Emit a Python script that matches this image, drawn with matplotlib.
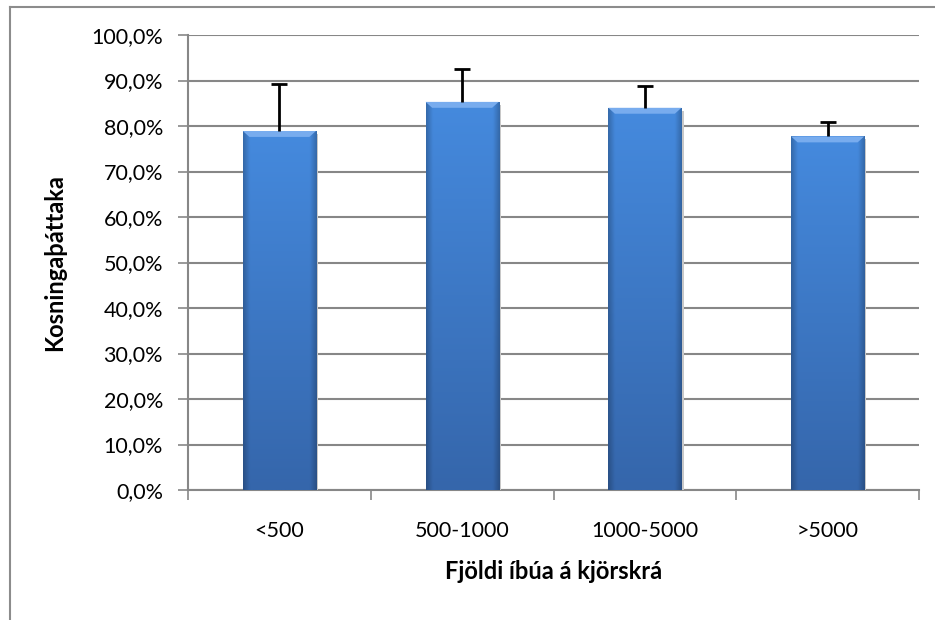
import numpy as np
import matplotlib
matplotlib.use('Agg')
import matplotlib.pyplot as plt
from matplotlib.colors import to_rgb
from matplotlib.lines import Line2D
from matplotlib.ticker import FuncFormatter, MultipleLocator

# data
categories = ['<500', '500-1000', '1000-5000', '>5000']
turnout = [78.9, 85.3, 84.0, 77.7]
err_up = [10.3, 7.3, 4.7, 3.1]

plt.rcParams['font.family'] = ['Lato', 'DejaVu Sans']

fig = plt.figure(figsize=(9.35, 6.2), dpi=100)
ax = fig.add_axes([188/935, 130/620, 731/935, 455/620])

x = np.arange(len(categories))
bars = ax.bar(x, turnout, width=0.4, color='#3f7bcb', zorder=3)

# bevelled gradient fill, Excel style
top_c = np.array(to_rgb('#458ade'))
bot_c = np.array(to_rgb('#3566ab'))
ny, nx = 200, 60
v = np.linspace(0, 1, ny)[:, None]
img = top_c * (1 - v[..., None]) + bot_c * v[..., None]
img = np.repeat(img, nx, axis=1)
h = np.linspace(0, 1, nx)
edge = np.clip(np.minimum(h, 1 - h) / 0.09, 0, 1)
shade = 0.78 + 0.22 * edge
img = img * shade[None, :, None]
for b in bars:
    x0, w, hgt = b.get_x(), b.get_width(), b.get_height()
    im = ax.imshow(img, extent=(x0, x0 + w, 0, hgt), aspect='auto', zorder=3.5,
                   interpolation='bilinear')
    im.set_clip_path(b)
    # light top bevel
    ax.fill([x0, x0 + w, x0 + w * 0.91, x0 + w * 0.09], [hgt, hgt, hgt - 1.3, hgt - 1.3],
            color='#78acee', lw=0, zorder=4)
    # soft shadow
    ax.fill([x0 + w * 0.03, x0 + w + 0.012, x0 + w + 0.012, x0 + w * 0.03],
            [-0.6, -0.6, hgt - 0.6, hgt - 0.6], color='#c8c8c8', lw=0, zorder=2.9)

# upper error bars only
eb = ax.errorbar(x, turnout, yerr=[np.zeros(len(err_up)), err_up], fmt='none',
                 ecolor='black', elinewidth=2, capsize=5.5, capthick=2, zorder=5)
eb[1][0].set_visible(False)

ax.set_ylim(0, 100)
ax.set_xlim(-0.5, len(categories) - 0.5)
ax.yaxis.set_major_locator(MultipleLocator(10))
ax.yaxis.set_major_formatter(FuncFormatter(lambda v, p: f'{v:.1f}'.replace('.', ',') + '%'))
ax.grid(axis='y', color='#878787', lw=1.5, zorder=1)

ax.set_xticks(np.arange(-0.5, len(categories)))
ax.set_xticklabels([])
ax.set_xticks(x, minor=True)
ax.set_xticklabels(categories, minor=True)
ax.tick_params(axis='x', which='major', length=7, width=1.2, color='#878787')
ax.tick_params(axis='x', which='minor', length=0, pad=22, labelsize=15.5)
ax.tick_params(axis='y', length=7, width=1.2, color='#878787', labelsize=15.5, pad=11)

for s in ['top', 'right']:
    ax.spines[s].set_visible(False)
for s in ['left', 'bottom']:
    ax.spines[s].set_color('#878787')
    ax.spines[s].set_linewidth(1.5)

ax.set_xlabel('Fjöldi íbúa á kjörskrá', fontsize=17, fontweight='bold', labelpad=14)
ax.set_ylabel('Kosningaþáttaka', fontsize=17, fontweight='bold', labelpad=18)

# outer chart border (cropped: only left and top visible)
fig.add_artist(Line2D([9.5/935, 9.5/935], [0, 1 - 7/620], color='#8c8c8c', lw=1.5))
fig.add_artist(Line2D([9.5/935, 1], [1 - 7/620, 1 - 7/620], color='#8c8c8c', lw=1.5))

fig.savefig('out.png', dpi=100, facecolor='white')
